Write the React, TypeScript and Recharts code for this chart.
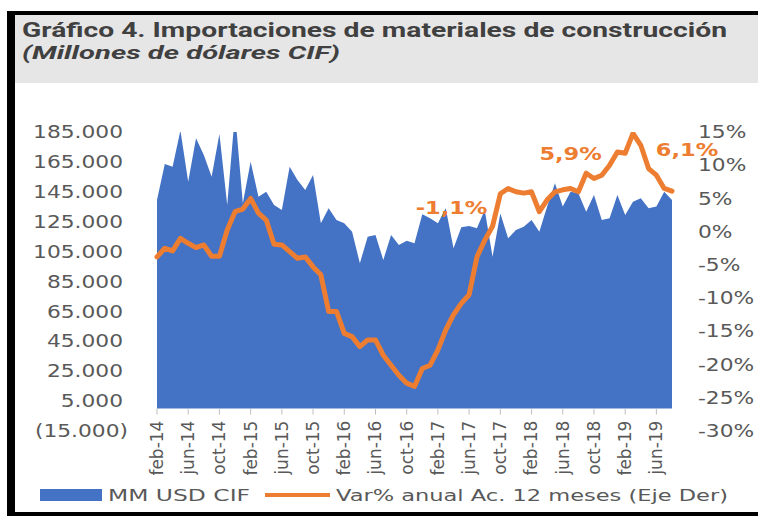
import React from 'react';
import { ComposedChart, Area, Line, XAxis, YAxis, ReferenceDot } from 'recharts';

const MONTHS = [
  'feb-14','mar-14','abr-14','may-14','jun-14','jul-14','ago-14','sep-14','oct-14','nov-14','dic-14',
  'ene-15','feb-15','mar-15','abr-15','may-15','jun-15','jul-15','ago-15','sep-15','oct-15','nov-15','dic-15',
  'ene-16','feb-16','mar-16','abr-16','may-16','jun-16','jul-16','ago-16','sep-16','oct-16','nov-16','dic-16',
  'ene-17','feb-17','mar-17','abr-17','may-17','jun-17','jul-17','ago-17','sep-17','oct-17','nov-17','dic-17',
  'ene-18','feb-18','mar-18','abr-18','may-18','jun-18','jul-18','ago-18','sep-18','oct-18','nov-18','dic-18',
  'ene-19','feb-19','mar-19','abr-19','may-19','jun-19','jul-19','ago-19',
];

const IMPORTS_USD = [
  139500, 163600, 161800, 186000, 151800, 180800, 169600, 155100, 183700, 136200, 198000,
  137300, 165100, 141700, 145100, 136200, 132800, 161800, 152900, 146200, 156300, 123900, 134000,
  126200, 124000, 118300, 97200, 115000, 116100, 99400, 116100, 109400, 112300, 110600, 130000,
  127300, 124000, 134000, 107200, 121300, 122100, 120600, 132800, 101600, 130500, 113900, 119500,
  121700, 126200, 118300, 135100, 150700, 135100, 145100, 144000, 131700, 142900, 126200, 127300,
  142900, 129500, 138400, 140700, 134000, 135100, 145100, 139500,
];

const VAR_ANUAL = [
  -3.8, -2.5, -2.9, -1.0, -1.75, -2.4, -2.0, -3.7, -3.7, 0.25, 3.0,
  3.4, 5.0, 2.8, 1.75, -1.9, -2.0, -3.0, -4.0, -3.8, -5.3, -6.5, -12.0,
  -12.0, -15.3, -15.8, -17.3, -16.3, -16.3, -18.6, -20.1, -21.6, -22.8, -23.3, -20.6,
  -20.1, -17.8, -14.8, -12.5, -10.8, -9.5, -3.8, -1.3, 0.8, 5.7, 6.5, 6.0,
  5.8, 6.0, 3.0, 4.8, 6.0, 6.3, 6.5, 6.0, 8.8, 8.0, 8.5, 10.0,
  12.0, 11.8, 14.8, 13.0, 9.5, 8.5, 6.5, 6.1,
];

const LEFT_TICKS = [-15000, 5000, 25000, 45000, 65000, 85000, 105000, 125000, 145000, 165000, 185000];
const RIGHT_TICKS = [-30, -25, -20, -15, -10, -5, 0, 5, 10, 15];

const ANNOTATION_MONTHS = ['abr-17', 'jul-18', 'ago-19'];
const ANNOTATION_VALUES = [3.7, 11.8, 12.4];
const ANNOTATION_TEXTS = ['-1,1%', '5,9%', '6,1%'];
const ANNOTATION_DX = [-2, 0, 15];

const SERIES_NAMES = ['MM USD CIF', 'Var% anual Ac. 12 meses (Eje Der)'];

const data = MONTHS.map((m, i) => ({ m, usd: IMPORTS_USD[i], pct: VAR_ANUAL[i] }));

const BLUE = '#4472C4';
const ORANGE = '#ED7D31';
const TICK_COLOR = '#595959';
const FONT = '"DejaVu Sans", sans-serif';
const STRETCH = 1.28;

const LEFT_MIN = -15000;
const LEFT_MAX = 185000;
const PLOT_TOP = 49;
const PLOT_H = 299;
const ZERO_OFFSET = (PLOT_H * (0 - LEFT_MIN)) / (LEFT_MAX - LEFT_MIN);

const fmtThousands = (v: number) => {
  const s = String(Math.abs(v)).replace(/\B(?=(\d{3})+(?!\d))/g, '.');
  return v < 0 ? `(${s})` : s;
};

const LeftTick = (props: any) => {
  const { x, y, payload } = props;
  const neg = payload.value < 0;
  return (
    <g transform={`translate(${x + (neg ? 5 : 0)},${y}) scale(${STRETCH},1)`}>
      <text x={0} y={0} dy="0.36em" textAnchor="end" fill={TICK_COLOR} fontSize={17} fontFamily={FONT}>
        {fmtThousands(payload.value)}
      </text>
    </g>
  );
};

const RightTick = (props: any) => {
  const { x, y, payload } = props;
  return (
    <g transform={`translate(${x},${y}) scale(${STRETCH},1)`}>
      <text x={0} y={0} dy="0.36em" textAnchor="start" fill={TICK_COLOR} fontSize={17} fontFamily={FONT}>
        {`${payload.value}%`}
      </text>
    </g>
  );
};

const BottomTick = (props: any) => {
  const { x, y, payload } = props;
  const zeroY = y - ZERO_OFFSET;
  return (
    <g>
      <line x1={x} x2={x} y1={zeroY} y2={zeroY + 6} stroke="#bfbfbf" strokeWidth={1} />
      <text
        x={0}
        y={0}
        dy="0.35em"
        textAnchor="end"
        fill={TICK_COLOR}
        fontSize={17}
        fontFamily={FONT}
        transform={`translate(${x},${zeroY + 12}) rotate(-90)`}
      >
        {payload.value}
      </text>
    </g>
  );
};

const makeLabelShape = (text: string, dx: number) => (props: any) => {
  const { cx, cy } = props;
  return (
    <g transform={`translate(${cx + dx},${cy}) scale(1.25,1)`}>
      <text
        x={0}
        y={0}
        dy="0.36em"
        textAnchor="middle"
        fill={ORANGE}
        fontSize={18}
        fontWeight={700}
        fontFamily={FONT}
      >
        {text}
      </text>
    </g>
  );
};

export default function App() {
  return (
    <div
      style={{
        position: 'absolute',
        left: 0,
        top: 0,
        width: 758,
        height: 516,
        background: '#ffffff',
        overflow: 'hidden',
      }}
    >
      <div style={{ position: 'absolute', left: 7, top: 11, width: 8, height: 505, background: '#000' }} />
      <div style={{ position: 'absolute', left: 7, top: 11, width: 751, height: 4, background: '#000' }} />
      <div style={{ position: 'absolute', left: 7, top: 512, width: 751, height: 4, background: '#000' }} />
      <div style={{ position: 'absolute', left: 15, top: 15, width: 743, height: 68, background: '#e7e6e6' }}>
        <svg width={743} height={68} style={{ display: 'block' }}>
          <text
            x={7}
            y={22}
            fill="#404040"
            fontFamily="Roboto, sans-serif"
            fontWeight={700}
            fontSize={20}
            textLength={705}
            lengthAdjust="spacingAndGlyphs"
          >
            Gráfico 4. Importaciones de materiales de construcción
          </text>
          <text
            x={7}
            y={44}
            fill="#404040"
            fontFamily="Roboto, sans-serif"
            fontWeight={700}
            fontStyle="italic"
            fontSize={19}
            textLength={318}
            lengthAdjust="spacingAndGlyphs"
          >
            (Millones de dólares CIF)
          </text>
        </svg>
      </div>
      <div style={{ position: 'absolute', left: 15, top: 83 }}>
        <ComposedChart
          width={743}
          height={429}
          data={data}
          margin={{ top: PLOT_TOP, right: 0, bottom: 0, left: 0 }}
        >
          <XAxis
            dataKey="m"
            scale="point"
            interval={3}
            height={81}
            axisLine={false}
            tickLine={false}
            tickSize={0}
            tickMargin={0}
            tick={<BottomTick />}
            padding={{ left: 0, right: 0 }}
          />
          <YAxis
            yAxisId="l"
            domain={[LEFT_MIN, LEFT_MAX]}
            ticks={LEFT_TICKS}
            allowDataOverflow
            width={142}
            axisLine={false}
            tickLine={false}
            tickSize={0}
            tickMargin={34}
            tick={<LeftTick />}
            interval={0}
          />
          <YAxis
            yAxisId="r"
            orientation="right"
            domain={[-30, 15]}
            ticks={RIGHT_TICKS}
            allowDataOverflow
            width={86}
            axisLine={false}
            tickLine={false}
            tickSize={0}
            tickMargin={26}
            tick={<RightTick />}
            interval={0}
          />
          <Area
            yAxisId="l"
            type="linear"
            dataKey="usd"
            name={SERIES_NAMES[0]}
            fill={BLUE}
            fillOpacity={1}
            stroke="none"
            baseValue={0}
            isAnimationActive={false}
          />
          <Line
            yAxisId="r"
            type="linear"
            dataKey="pct"
            name={SERIES_NAMES[1]}
            stroke={ORANGE}
            strokeWidth={5}
            strokeLinejoin="round"
            strokeLinecap="round"
            dot={false}
            activeDot={false}
            isAnimationActive={false}
          />
          {ANNOTATION_MONTHS.map((m, i) => (
            <ReferenceDot
              key={m}
              yAxisId="r"
              x={m}
              y={ANNOTATION_VALUES[i]}
              r={0}
              ifOverflow="visible"
              shape={makeLabelShape(ANNOTATION_TEXTS[i], ANNOTATION_DX[i])}
            />
          ))}
        </ComposedChart>
      </div>
      <svg width={758} height={30} style={{ position: 'absolute', left: 0, top: 482 }}>
        <rect x={40} y={7} width={62} height={12} fill={BLUE} />
        <text
          x={108}
          y={19}
          fill={TICK_COLOR}
          fontFamily={FONT}
          fontSize={16}
          textLength={142}
          lengthAdjust="spacingAndGlyphs"
        >
          {SERIES_NAMES[0]}
        </text>
        <line x1={265} x2={330} y1={13} y2={13} stroke={ORANGE} strokeWidth={4} />
        <text
          x={336}
          y={19}
          fill={TICK_COLOR}
          fontFamily={FONT}
          fontSize={16}
          textLength={392}
          lengthAdjust="spacingAndGlyphs"
        >
          {SERIES_NAMES[1]}
        </text>
      </svg>
    </div>
  );
}
